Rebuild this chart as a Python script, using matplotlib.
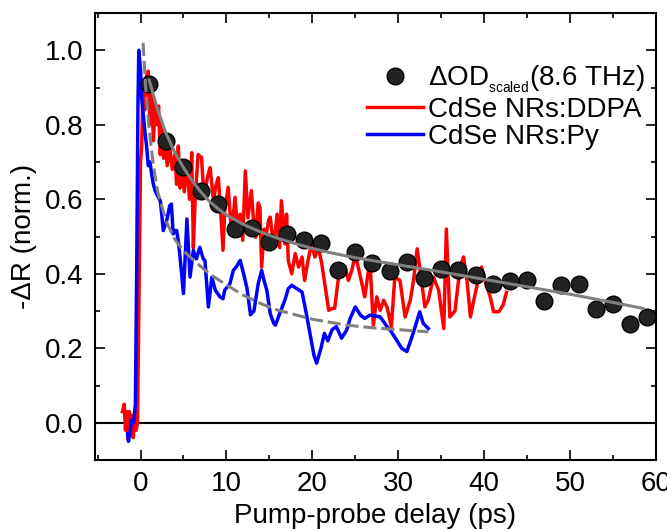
import matplotlib
matplotlib.use("Agg")
import matplotlib.pyplot as plt
from matplotlib.ticker import MultipleLocator

plt.rcParams['font.family'] = ['Liberation Sans', 'DejaVu Sans']
plt.rcParams['mathtext.fontset'] = 'custom'
plt.rcParams['mathtext.rm'] = 'Liberation Sans'
plt.rcParams['mathtext.it'] = 'Liberation Sans:italic'

# THz dOD points (scaled)
od_delay = [1, 3, 5, 7, 9, 11, 13, 15, 17, 19, 21, 23, 25, 27, 29,
            31, 33, 35, 37, 39, 41, 43, 45, 47, 49, 51, 53, 55, 57, 59]
od_value = [0.91, 0.757, 0.686, 0.623, 0.587, 0.52, 0.524, 0.486, 0.507, 0.491,
            0.483, 0.41, 0.459, 0.429, 0.407, 0.431, 0.389, 0.414, 0.409, 0.397,
            0.372, 0.38, 0.382, 0.327, 0.371, 0.372, 0.306, 0.318, 0.266, 0.285]

# fit through the dOD points
fit_delay = [1, 2, 3, 4, 5, 6, 7, 8, 9, 10, 12, 14, 16, 18, 20, 22, 25,
             30, 35, 40, 45, 50, 55, 58.5]
fit_value = [0.92, 0.84, 0.775, 0.725, 0.685, 0.65, 0.62, 0.595, 0.575, 0.558,
             0.532, 0.512, 0.495, 0.481, 0.468, 0.457, 0.443, 0.424, 0.405,
             0.385, 0.365, 0.345, 0.323, 0.307]

# fit through the Py trace (dashed)
fit_py_delay = [0.3, 0.6, 1.0, 1.5, 2, 3, 4, 5, 6, 7, 8, 9, 10, 12, 14, 16,
                18, 20, 22, 24, 27, 30, 33.5]
fit_py_value = [1.02, 0.90, 0.79, 0.69, 0.62, 0.54, 0.492, 0.462, 0.44, 0.42,
                0.40, 0.385, 0.37, 0.342, 0.32, 0.302, 0.29, 0.278, 0.27,
                0.262, 0.255, 0.25, 0.244]

# CdSe NRs:DDPA reflectivity trace
ddpa_delay = [-2.1, -1.9, -1.75, -1.6, -1.45, -1.3, -1.15, -1.0, -0.85, -0.7,
              -0.5, -0.35, -0.2, 0.0, 0.15, 0.3, 0.5, 0.7, 0.9, 1.1,
              1.3, 1.5, 1.7, 1.9, 2.1, 2.3, 2.5, 2.7, 2.9, 3.1,
              3.4, 3.7, 4.0, 4.2, 4.4, 4.6, 4.8, 5.1, 5.4, 5.7,
              5.96, 6.15, 6.35, 6.7, 7.1, 7.4, 7.8, 8.1, 8.5, 8.8,
              9.06, 9.35, 9.6, 9.8, 10.2, 10.6, 11.0, 11.3, 11.6, 11.9,
              12.2, 12.5, 12.9, 13.2, 13.4, 13.7, 13.9, 14.1, 14.4, 14.6,
              14.9, 15.1, 15.5, 15.9, 16.2, 16.4, 16.8, 17.0, 17.2, 17.6,
              18.0, 18.4, 18.8, 19.1, 19.5, 19.9, 20.3, 20.7, 21.1, 21.5,
              21.9, 22.3, 22.6, 23.0, 23.4, 23.8, 24.2, 24.6, 25.0, 25.6,
              26.1, 26.7, 27.1, 27.5, 27.9, 28.3, 28.7, 29.2, 29.6, 30.2,
              30.8, 31.4, 31.8, 32.2, 32.7, 33.1, 33.5, 34.1, 34.7, 35.3,
              35.6, 36.0, 36.6, 37.2, 37.6, 38.0, 38.4, 38.8, 39.3, 39.7,
              40.1, 40.7, 41.1, 41.7, 42.2, 42.6]
ddpa_value = [0.03, 0.05, -0.02, 0.03, -0.045, 0.03, -0.03, 0.02, -0.04, 0.01,
              -0.02, 0.0, 0.3, 0.7, 0.75, 0.92, 0.84, 0.93, 0.944, 0.80,
              0.88, 0.757, 0.86, 0.80, 0.85, 0.72, 0.80, 0.71, 0.76, 0.69,
              0.74, 0.68, 0.72, 0.64, 0.743, 0.63, 0.685, 0.62, 0.70, 0.60,
              0.725, 0.47, 0.596, 0.72, 0.712, 0.605, 0.66, 0.685, 0.596, 0.64,
              0.658, 0.56, 0.463, 0.57, 0.632, 0.507, 0.605, 0.52, 0.56, 0.49,
              0.676, 0.55, 0.623, 0.53, 0.498, 0.59, 0.578, 0.418, 0.52, 0.50,
              0.543, 0.552, 0.471, 0.56, 0.47, 0.596, 0.48, 0.56, 0.436, 0.40,
              0.454, 0.418, 0.445, 0.382, 0.436, 0.48, 0.445, 0.471, 0.427, 0.364,
              0.302, 0.307, 0.307, 0.382, 0.422, 0.42, 0.382, 0.41, 0.452, 0.391,
              0.338, 0.436, 0.262, 0.338, 0.302, 0.329, 0.31, 0.258, 0.391, 0.382,
              0.284, 0.329, 0.385, 0.467, 0.382, 0.311, 0.33, 0.391, 0.356, 0.253,
              0.52, 0.284, 0.30, 0.418, 0.445, 0.382, 0.284, 0.33, 0.382, 0.418,
              0.382, 0.338, 0.298, 0.298, 0.316, 0.35]

# CdSe NRs:Py reflectivity trace
py_delay = [-1.5, -1.4, -1.2, -1.0, -0.8, -0.6, -0.45, -0.3, -0.2, 0.0,
            0.14, 0.35, 0.52, 0.72, 0.9, 1.1, 1.3, 1.5, 1.7, 2.07,
            2.3, 2.5, 2.65, 3.05, 3.4, 3.6, 3.8, 4.0, 4.2, 4.4,
            4.6, 5.0, 5.4, 5.76, 6.15, 6.5, 6.9, 7.3, 7.5, 7.9,
            8.3, 8.7, 9.25, 9.6, 9.8, 10.4, 10.8, 11.2, 11.6, 12.0,
            12.4, 12.8, 13.2, 13.7, 14.1, 14.4, 14.7, 15.1, 15.5, 15.7,
            16.2, 16.8, 17.2, 17.6, 18.2, 18.8, 19.3, 19.8, 20.2, 20.5,
            21.0, 21.4, 21.8, 22.3, 22.8, 23.4, 24.0, 24.4, 25.0, 25.6,
            26.1, 26.7, 27.3, 27.9, 28.7, 29.2, 29.8, 30.4, 31.0, 31.6,
            32.0, 32.5, 32.9, 33.5]
py_value = [-0.03, -0.05, -0.02, 0.008, 0.0, 0.05, 0.4, 0.85, 1.0, 0.95,
            0.87, 0.82, 0.78, 0.74, 0.69, 0.70, 0.667, 0.64, 0.623, 0.605,
            0.596, 0.552, 0.516, 0.543, 0.583, 0.587, 0.507, 0.516, 0.516, 0.489,
            0.445, 0.347, 0.547, 0.391, 0.463, 0.44, 0.471, 0.44, 0.436, 0.311,
            0.391, 0.356, 0.338, 0.333, 0.356, 0.373, 0.409, 0.42, 0.436, 0.40,
            0.36, 0.29, 0.30, 0.373, 0.409, 0.38, 0.356, 0.293, 0.267, 0.262,
            0.293, 0.329, 0.36, 0.369, 0.36, 0.351, 0.293, 0.23, 0.18, 0.16,
            0.20, 0.24, 0.22, 0.25, 0.258, 0.227, 0.249, 0.28, 0.311, 0.289,
            0.28, 0.289, 0.287, 0.284, 0.258, 0.244, 0.222, 0.20, 0.191, 0.231,
            0.26, 0.298, 0.267, 0.253]

FS = 20

fig = plt.figure(figsize=(6.67, 5.31), dpi=100)
ax = fig.add_axes([0.1424, 0.1337, 0.8411, 0.8418])

ax.axhline(0, color='black', lw=1.5, zorder=0.5)
ax.plot(ddpa_delay, ddpa_value, color='#ff0000', lw=2.5, zorder=1,
        label='CdSe NRs:DDPA')
ax.plot(py_delay, py_value, color='#0000ff', lw=2.5, zorder=2,
        label='CdSe NRs:Py')
ax.plot(od_delay, od_value, 'o', ms=12, mfc='#222222', mec='black', mew=1.0,
        zorder=3, label='\u0394OD${}_{{}_{\\rm scaled}}$(8.6 THz)')
ax.plot(fit_delay, fit_value, color='#808080', lw=2.2, zorder=4)
ax.plot(fit_py_delay, fit_py_value, color='#808080', lw=2.2, zorder=4,
        dashes=(4.3, 1.6))

ax.set_xlim(-5.3, 60)
ax.set_ylim(-0.1, 1.1)
ax.xaxis.set_major_locator(MultipleLocator(10))
ax.xaxis.set_minor_locator(MultipleLocator(5))
ax.yaxis.set_major_locator(MultipleLocator(0.2))
ax.yaxis.set_minor_locator(MultipleLocator(0.1))
ax.yaxis.set_major_formatter(plt.FormatStrFormatter('%.1f'))

ax.tick_params(which='both', direction='in', top=True, right=True,
               width=1.2, labelsize=FS)
ax.tick_params(which='major', length=7, pad=8)
ax.tick_params(which='minor', length=3.6)
for sp in ax.spines.values():
    sp.set_linewidth(1.5)

ax.set_xlabel('Pump-probe delay (ps)', fontsize=FS, labelpad=4)
ax.set_ylabel('-\u0394R (norm.)', fontsize=FS, labelpad=6)

handles, labels = ax.get_legend_handles_labels()
order = [2, 0, 1]
ax.legend([handles[i] for i in order], [labels[i] for i in order],
          loc='upper left', bbox_to_anchor=(0.485, 0.887), frameon=False,
          fontsize=FS, handlelength=2.0, handletextpad=0.2, labelspacing=0.05,
          borderpad=0, borderaxespad=0)

fig.savefig('out.png', dpi=100)
